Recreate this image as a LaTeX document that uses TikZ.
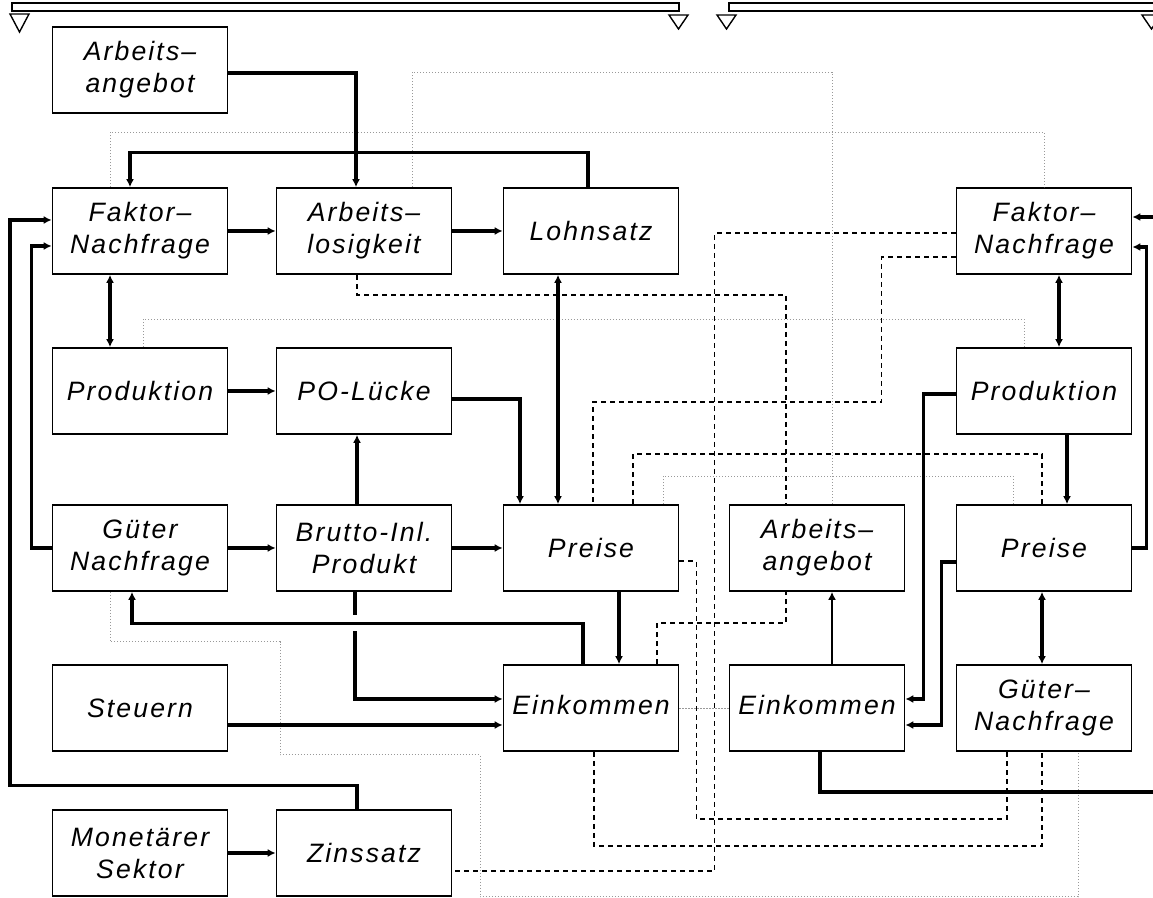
\documentclass[tikz,border=0pt]{standalone}
\usepackage{fontspec}
\newfontfamily\boxfont{Liberation Sans}[LetterSpace=8]
\usetikzlibrary{arrows.meta}

\tikzset{
  box/.style={draw, line width=0.85pt, minimum width=87.5pt, minimum height=43pt,
    inner sep=0pt, align=center, font=\boxfont\itshape\fontsize{13.3}{16}\selectfont},
  arr/.style={line width=1.6pt, -{Latex[length=4pt,width=4pt]}},
  arrboth/.style={line width=1.6pt, {Latex[length=4pt,width=4pt]}-{Latex[length=4pt,width=4pt]}},
  dashlink/.style={line width=0.8pt, dash pattern=on 2.5pt off 2pt},
  dotlink/.style={line width=0.45pt, black!40, dash pattern=on 0.6pt off 0.9pt},
  bar/.style={line width=0.7pt},
}

\begin{document}
\begin{tikzpicture}[x=0.5pt,y=-0.5pt]
    \useasboundingbox (0,0) rectangle (1153,898);

    \draw[bar] (12,3) rectangle (679,11);
    \draw[bar] (729,3) rectangle (1165,11);
    \draw[bar] (10,14) -- (29,14) -- (19.5,32) -- cycle;
    \draw[bar] (669,15) -- (688,15) -- (678.5,29) -- cycle;
    \draw[bar] (717,15) -- (736,15) -- (726.5,29) -- cycle;
    \draw[bar] (1142,15) -- (1161,15) -- (1151.5,29) -- cycle;

    \node[box] (aaL) at (140,70) {Arbeits–\\angebot};
    \node[box] (fnL) at (140,231) {Faktor–\\Nachfrage};
    \node[box] (alos) at (364,231) {Arbeits–\\losigkeit};
    \node[box] (lohn) at (591,231) {Lohnsatz};
    \node[box] (prodL) at (140,391) {Produktion};
    \node[box] (pol) at (364,391) {PO-Lücke};
    \node[box] (gnL) at (140,548) {Güter\\Nachfrage};
    \node[box] (bip) at (364,548) {Brutto-Inl.\\Produkt};
    \node[box] (preisL) at (591,548) {Preise};
    \node[box] (aaR) at (817,548) {Arbeits–\\angebot};
    \node[box] (steuern) at (140,708) {Steuern};
    \node[box] (einkL) at (591,708) {\raisebox{3pt}{Einkommen}};
    \node[box] (einkR) at (817,708) {\raisebox{3pt}{Einkommen}};
    \node[box] (mon) at (140,853) {Monetärer\\Sektor};
    \node[box] (zins) at (364,853) {Zinssatz};
    \node[box] (fnR) at (1044,231) {Faktor–\\Nachfrage};
    \node[box] (prodR) at (1044,391) {Produktion};
    \node[box] (preisR) at (1044,548) {Preise};
    \node[box] (gnR) at (1044,708) {Güter–\\Nachfrage};

    \coordinate (cutT) at (1153,217);
    \coordinate (cutB) at (1153,792);

    \draw[dotlink] ([xshift=-15pt]fnL.north) -- ++(0,-55) -| (fnR.north);
    \draw[dotlink] ([xshift=24pt]alos.north) -- ++(0,-115) -| ([xshift=7.5pt]aaR.north);
    \draw[dotlink] ([xshift=1.5pt]prodL.north) -- ++(0,-28) -| ([xshift=-10pt]prodR.north);
    \draw[dotlink] ([xshift=36pt]preisL.north) -- ++(0,-28) -| ([xshift=-15.5pt]preisR.north);
    \draw[dotlink] ([xshift=-15pt]gnL.south) -- ++(0,50) -| ++(170,113) -| ++(200,142) -| ([xshift=17pt]gnR.south);
    \draw[dotlink] (einkL.east) -- (einkR.west);

    \draw[dashlink] ([xshift=-3.5pt]alos.south) -- ++(0,20) -| ([xshift=-15.5pt]aaR.north);
    \draw[dashlink] ([xshift=33pt]einkL.north) -- ++(0,-41) -| ([xshift=-15.5pt]aaR.south);
    \draw[dashlink] ([yshift=-1pt]fnR.west) -| ++(-241,638) -- ([yshift=-9pt]zins.east);
    \draw[dashlink] ([yshift=-13pt]fnR.west) -- ++(-74,0) -- ++(0,145) -| ([xshift=1pt]preisL.north);
    \draw[dashlink] ([xshift=21pt]preisL.north) -- ++(0,-50) -| ([xshift=-1pt]preisR.north);
    \draw[dashlink] ([yshift=-6.5pt]preisL.east) -- ++(17,0) -- ++(0,258) -| ([xshift=-18.5pt]gnR.south);
    \draw[dashlink] ([xshift=1.5pt]einkL.south) -- ++(0,94) -| ([xshift=-1pt]gnR.south);

    \draw[arr] ([yshift=-1.5pt]aaL.east) -| ([xshift=-4pt]alos.north);
    \draw[arr] ([xshift=-1.5pt]lohn.north) -- ++(0,-35) -| ([xshift=-5pt]fnL.north);
    \draw[arr] (fnL) -- (alos);
    \draw[arr] (alos) -- (lohn);
    \draw[arrboth] ([xshift=-15pt]fnL.south) -- ([xshift=-15pt]prodL.north);
    \draw[arr] (prodL) -- (pol);
    \draw[arr] ([xshift=-3.5pt]bip.north) -- ([xshift=-3.5pt]pol.south);
    \draw[arr] (gnL) -- (bip);
    \draw[arr] (gnL.west) -- ++(-20,0) |- ([yshift=-7.5pt]fnL.west);
    \draw[arr] ([xshift=-3.5pt]zins.north) |- ++(-347,-24) |- ([yshift=5.5pt]fnL.west);
    \draw[arrboth] ([xshift=-16.5pt]lohn.south) -- ([xshift=-16.5pt]preisL.north);
    \draw[arr] ([yshift=-4pt]pol.east) -| ([xshift=-35.5pt]preisL.north);
    \draw[arr] (bip) -- (preisL);
    \draw[arr] ([xshift=14pt]preisL.south) -- ([xshift=14pt]einkL.north);
    \draw[arr] ([xshift=-4.5pt]bip.south) |- ([yshift=4.5pt]einkL.west);
    \draw[arr, preaction={draw=white, line width=8pt, shorten <=3pt, shorten >=3pt, -}]
        ([xshift=-4pt]einkL.north) -- ++(0,-41) -| ([xshift=-4pt]gnL.south);
    \draw[arr] ([yshift=-8.5pt]steuern.east) -- ([yshift=-8.5pt]einkL.west);
    \draw[arr] (mon) -- (zins);

    \draw[arrboth] ([xshift=7.5pt]fnR.south) -- ([xshift=7.5pt]prodR.north);
    \draw[arr] ([xshift=11.5pt]prodR.south) -- ([xshift=11.5pt]preisR.north);
    \draw[arr] (preisR.east) -- ++(14,0) |- ([yshift=-8pt]fnR.east);
    \draw[arr] (cutT) -- ([yshift=7pt]fnR.east);
    \draw[arr] ([yshift=-1.5pt]prodR.west) -- ++(-32,0) |- ([yshift=4.5pt]einkR.east);
    \draw[arr] ([yshift=-7pt]preisR.west) -- ++(-14,0) |- ([yshift=-8.5pt]einkR.east);
    \draw[arrboth] ([xshift=-1pt]preisR.south) -- ([xshift=-1pt]gnR.north);
    \draw[arr, line width=1pt] ([xshift=7.5pt]einkR.north) -- ([xshift=7.5pt]aaR.south);
    \draw[line width=1.6pt] ([xshift=1.5pt]einkR.south) |- (cutB);
\end{tikzpicture}
\end{document}
